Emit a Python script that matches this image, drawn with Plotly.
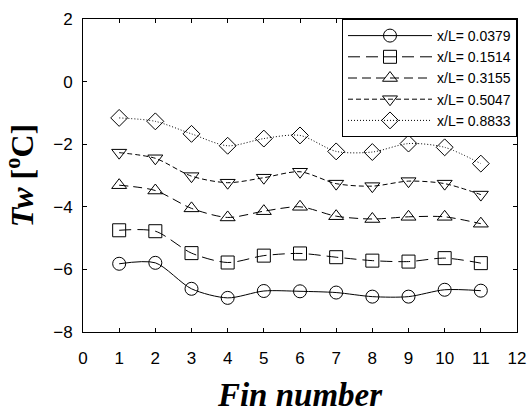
import plotly.graph_objects as go

fins = [1, 2, 3, 4, 5, 6, 7, 8, 9, 10, 11]
labels = ["x/L= 0.0379", "x/L= 0.1514", "x/L= 0.3155", "x/L= 0.5047", "x/L= 0.8833"]
s1 = [-5.82, -5.79, -6.62, -6.91, -6.69, -6.70, -6.74, -6.87, -6.87, -6.65, -6.68]
s2 = [-4.75, -4.78, -5.48, -5.78, -5.56, -5.49, -5.61, -5.72, -5.75, -5.64, -5.80]
s3 = [-3.31, -3.48, -4.05, -4.34, -4.14, -4.00, -4.30, -4.39, -4.32, -4.32, -4.54]
s4 = [-2.27, -2.45, -3.02, -3.23, -3.07, -2.88, -3.26, -3.34, -3.18, -3.26, -3.61]
s5 = [-1.16, -1.27, -1.67, -2.05, -1.82, -1.72, -2.23, -2.25, -1.98, -2.10, -2.62]
series = [s1, s2, s3, s4, s5]
symbols = ["circle-open", "square-open", "triangle-up-open", "triangle-down-open", "diamond-open"]
dashes = ["solid", "12px,6px", "9px,5px", "5px,3px", "1px,2px"]

fig = go.Figure()
for name, ys, sym, dash in zip(labels, series, symbols, dashes):
    fig.add_trace(go.Scatter(
        x=fins, y=ys, name=name, mode="lines+markers",
        line=dict(color="black", width=1, dash=dash, shape="spline", smoothing=0.8),
        marker=dict(symbol=sym, size=13, color="black", line=dict(width=1, color="black")),
    ))

axis_common = dict(
    showline=True, linecolor="black", linewidth=1, mirror="ticks",
    ticks="inside", ticklen=4, tickcolor="black", showgrid=False, zeroline=False,
    automargin=False,
    tickfont=dict(family="Liberation Sans, Arial", size=17, color="black"),
)
fig.update_xaxes(range=[0, 12], dtick=1, tick0=0, ticklabelstandoff=11,
                 title=dict(text="<b><i>Fin number</i></b>",
                            font=dict(family="Liberation Serif, Times New Roman", size=33, color="black"),
                            standoff=24),
                 **axis_common)
fig.update_yaxes(range=[-8, 2], dtick=2, tick0=0, ticklabelstandoff=6,
                 title=dict(text="<b><i>Tw</i> [<sup>o</sup>C]</b>",
                            font=dict(family="Liberation Serif, Times New Roman", size=32, color="black"),
                            standoff=13),
                 **axis_common)
fig.update_layout(
    width=530, height=413,
    margin=dict(l=83, r=13, t=19, b=81, autoexpand=False),
    plot_bgcolor="white", paper_bgcolor="white",
    showlegend=True,
    legend=dict(x=1, y=1, xanchor="right", yanchor="top",
                bgcolor="white", bordercolor="black", borderwidth=1,
                font=dict(family="Liberation Sans, Arial", size=14, color="black"),
                itemwidth=84, tracegroupgap=0),
)
fig.write_html("out.html")
